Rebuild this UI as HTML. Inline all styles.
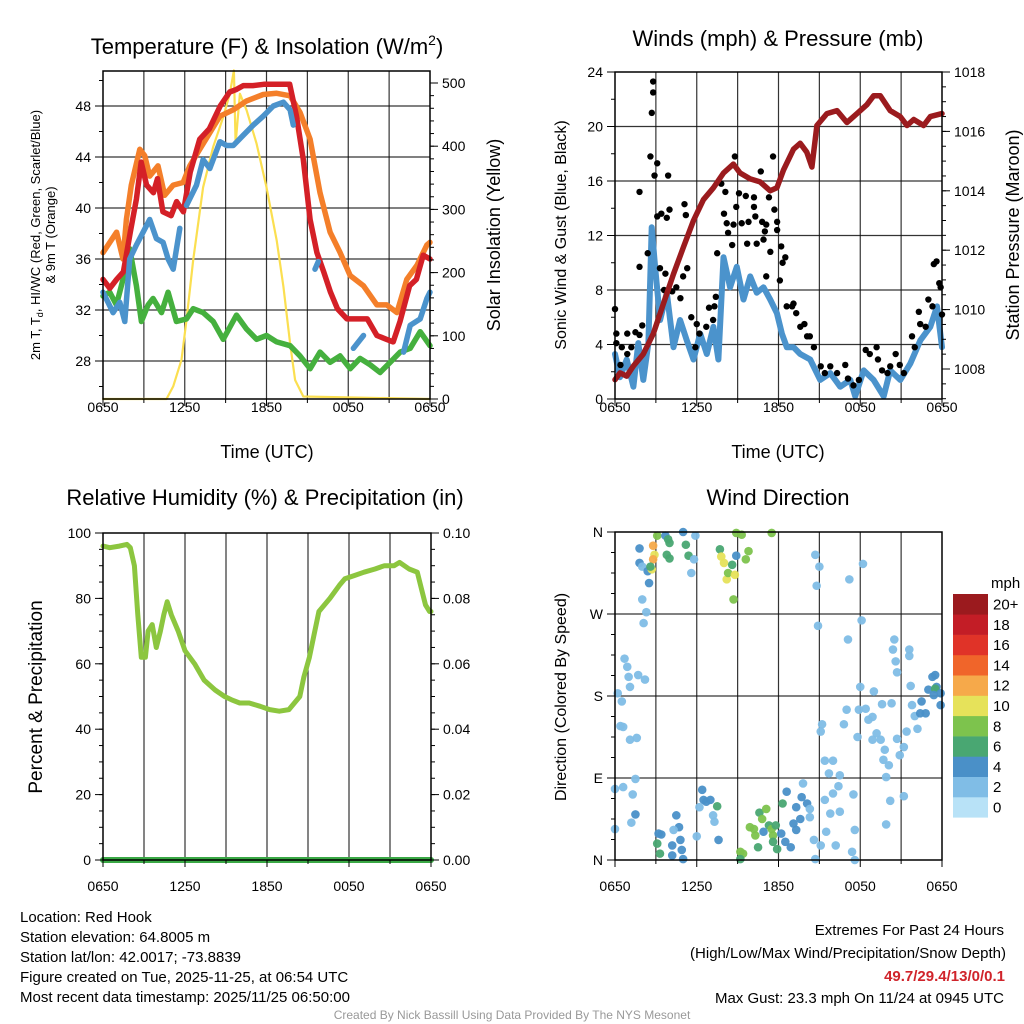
<!DOCTYPE html>
<html><head><meta charset="utf-8"><style>
html,body{margin:0;padding:0;background:#fff;}
svg{display:block;font-family:"Liberation Sans",Arial,sans-serif;}
</style></head><body>
<svg id="s" width="1024" height="1024" viewBox="0 0 1024 1024">
<rect width="1024" height="1024" fill="#fff"/>
<text x="267" y="54" font-size="22" text-anchor="middle">Temperature (F) &amp; Insolation (W/m<tspan dy="-9" font-size="14">2</tspan><tspan dy="9">)</tspan></text>
<text x="778" y="46" font-size="22" text-anchor="middle">Winds (mph) &amp; Pressure (mb)</text>
<text x="265" y="505" font-size="22" text-anchor="middle">Relative Humidity (%) &amp; Precipitation (in)</text>
<text x="778" y="505" font-size="22" text-anchor="middle">Wind Direction</text>
<text x="267" y="458" font-size="18" text-anchor="middle">Time (UTC)</text>
<text x="778" y="458" font-size="18" text-anchor="middle">Time (UTC)</text>
<g transform="translate(40,235) rotate(-90)" font-size="13" text-anchor="middle">
<text x="0" y="0">2m T, T<tspan dy="3" font-size="9">d</tspan><tspan dy="-3">, HI/WC (Red, Green, Scarlet/Blue)</tspan></text>
<text x="0" y="15">&amp; 9m T (Orange)</text></g>
<text transform="translate(500,235) rotate(-90)" font-size="18" text-anchor="middle">Solar Insolation (Yellow)</text>
<text transform="translate(566,235) rotate(-90)" font-size="16" text-anchor="middle">Sonic Wind &amp; Gust (Blue, Black)</text>
<text transform="translate(1019,235) rotate(-90)" font-size="18" text-anchor="middle">Station Pressure (Maroon)</text>
<text transform="translate(42,697) rotate(-90)" font-size="19" text-anchor="middle">Percent &amp; Precipitation</text>
<text transform="translate(566,697) rotate(-90)" font-size="16" text-anchor="middle">Direction (Colored By Speed)</text>
<g font-size="15">
<text x="20" y="922">Location: Red Hook</text>
<text x="20" y="942">Station elevation: 64.8005 m</text>
<text x="20" y="962">Station lat/lon: 42.0017; -73.8839</text>
<text x="20" y="982">Figure created on Tue, 2025-11-25, at 06:54 UTC</text>
<text x="20" y="1002">Most recent data timestamp: 2025/11/25 06:50:00</text>
</g>
<g font-size="15" text-anchor="end">
<text x="1004" y="935">Extremes For Past 24 Hours</text>
<text x="1006" y="958">(High/Low/Max Wind/Precipitation/Snow Depth)</text>
<text x="1005" y="981" fill="#d0242b" font-weight="bold">49.7/29.4/13/0/0.1</text>
<text x="1004" y="1003">Max Gust: 23.3 mph On 11/24 at 0945 UTC</text>
</g>
<text x="512" y="1019" font-size="12" fill="#999" text-anchor="middle">Created By Nick Bassill Using Data Provided By The NYS Mesonet</text>
<g id="plots"></g>
</svg>
<script>
// ---------- data ----------
const xTickLabels = ["0650","1250","1850","0050","0650"];
const tempTicks = [28,32,36,40,44,48];
const solarTicks = [0,100,200,300,400,500];
const windTicks = [0,4,8,12,16,20,24];
const presTicks = [1008,1010,1012,1014,1016,1018];
const rhTicks = [0,20,40,60,80,100];
const precipTicks = ["0.00","0.02","0.04","0.06","0.08","0.10"];
const dirTickLabels = ["N","E","S","W","N"];
const speedBins = ["0","2","4","6","8","10","12","14","16","18","20+"];

const redT = [0,0.5,1,1.5,2,2.45,2.8,3.2,3.7,4.0,4.4,5.0,5.4,5.9,6.4,7.1,7.8,8.6,9.3,9.8,10.3,11.0,11.8,12.7,13.7,14.2,14.7,15.2,15.7,16.2,16.7,17.2,17.9,18.6,19.4,20.1,20.8,21.3,21.8,22.5,23.0,23.5,24];
const redV = [34.4,33.7,34.4,35,38.1,40.7,43.6,41.8,41.2,42.3,39.7,39.4,40.5,39.7,42.8,45.4,46.2,48.0,49.1,49.3,49.6,49.6,49.7,49.7,49.7,47.2,43.8,39.1,36.5,35,33.4,32.1,31.3,31.3,31.3,30,29.7,29.5,31.1,33.9,34.4,36.3,36];
const orangeT = [0,0.5,1,1.47,1.72,2.08,2.7,3.06,3.43,4.04,4.53,5.15,5.88,6.37,7.1,7.84,8.58,9.56,10.54,11.76,12.75,13.73,14.46,15.2,15.93,16.67,17.4,18.14,19.12,20.1,20.83,21.57,22.3,23.04,23.77,24];
const orangeV = [36.5,37.3,38.1,36,39.1,41.8,44.6,44.1,42.5,43.3,41,41.8,42,43.3,44.6,45.9,47.2,47.7,48.4,48.9,49,48.8,47.5,45.4,41.2,38.1,36.5,34.7,33.9,32.4,32.4,31.8,34.4,35.5,37.1,37.3];
const blueT = [0,0.74,1.23,1.6,1.96,2.45,2.94,3.43,3.92,4.41,4.78,5.15,5.64,null,6.13,6.86,7.35,7.84,8.58,9.07,9.56,10.29,11.03,11.76,12.5,13.24,13.73,13.97,null,15.56,15.8,null,18.38,19.12,null,22.06,22.55,23.28,23.77,24];
const blueV = [33.4,31.8,32.6,31.1,36,37.1,38.1,39.1,37.6,37.3,36,35.2,38.4,null,40.2,41.8,43.8,43.1,45.2,44.9,44.9,45.7,46.5,47.2,48,48.3,47.7,46.5,null,35.2,35.8,null,29,30,null,28.7,30.8,31.3,32.9,33.4];
const greenT = [0,0.49,0.98,1.47,1.96,2.45,2.82,3.31,3.68,4.29,4.78,5.39,6.13,6.62,7.35,8.09,8.82,9.8,10.54,11.27,12.0,12.75,13.73,14.46,15.2,15.93,16.67,17.4,18.14,18.87,19.61,20.34,21.08,21.81,22.55,23.28,24];
const greenV = [33.1,33.4,32.4,34.4,36.8,33.9,31.1,32.4,32.9,31.8,33.4,31.1,31.3,32.1,31.8,31.1,29.7,31.6,30.5,29.7,30,29.5,29.2,28.4,27.4,28.7,27.9,28.4,27.4,28.2,27.7,27.1,27.9,28.7,29,30.3,29.2];
const solarT = [0,4.66,5.15,5.76,6.13,6.62,7.35,8.09,8.82,9.31,9.61,9.73,10.05,10.54,11.27,12.0,12.75,13.24,13.73,14.1,14.7,24];
const solarV = [0,0,20,62,125,220,335,399,446,483,520,404,483,457,404,335,251,178,88,30,4,0];

const windT = [0,0.37,0.86,1.35,1.71,2.08,2.45,2.69,2.94,3.31,3.8,4.29,4.78,5.27,5.76,6.25,6.74,7.22,7.59,7.96,8.45,8.94,9.43,9.92,10.41,10.9,11.39,11.88,12.25,12.61,13.1,13.59,14.33,15.06,15.8,16.53,17.27,17.63,18.25,18.98,19.72,20.2,20.94,21.67,22.41,23.14,23.63,24];
const windV = [3.3,1.6,2.9,0.9,4.1,1.4,4.1,12.6,9.7,5.8,7.8,3.8,5.8,4.3,2.9,4.8,3.3,5.3,2.9,10.4,8.2,9.7,7.3,9,7.8,8.2,7.3,6.3,4.8,3.8,3.8,3.3,2.9,1.4,1.9,0.9,1.4,0.2,2.1,1.4,0.2,2.1,1.4,2.6,4.3,5.3,6.8,3.8];
const presT = [0,0.37,0.86,1.35,2.08,2.82,3.55,4.29,5.02,5.76,6.49,7.22,7.96,8.69,9.18,9.92,10.65,11.39,11.88,12.37,13.1,13.59,14.08,14.45,14.82,15.55,16.29,17.02,17.76,18.49,18.98,19.47,20.2,20.94,21.43,21.92,22.65,23.14,24];
const presV = [1007.64,1007.87,1007.76,1008.1,1008.5,1009.2,1010.2,1011.2,1012.1,1013,1013.7,1014.1,1014.6,1014.9,1014.6,1014.4,1014.3,1014,1014.1,1014.7,1015.4,1015.6,1015.3,1014.8,1016.2,1016.6,1016.7,1016.3,1016.6,1016.9,1017.2,1017.2,1016.7,1016.5,1016.2,1016.4,1016.2,1016.5,1016.6];
const gustT = [0,0.1,0.1,0.4,0.5,0.9,0.9,1.2,1.5,1.8,2.0,1.8,2.4,1.8,2.8,2.8,2.7,2.6,3.1,2.9,3.1,3.4,3.8,4.0,3.9,3.3,3.7,3.6,4.2,4.5,4.8,5.0,5.3,5.1,5.2,5.6,6.0,6.2,5.9,6.7,6.9,7.3,7.4,7.2,7.5,8.0,7.8,8.1,8.2,8.3,8.6,8.7,8.8,8.9,9.1,9.3,9.6,9.7,9.8,10.2,10.2,10.3,10.4,10.7,10.8,10.9,11.0,11.1,11.1,11.3,11.4,11.6,11.7,11.9,11.9,12.2,12.3,12.5,12.1,12.6,13.0,13.1,13.3,13.6,13.9,14.1,14.3,14.6,15.1,15.4,15.8,16.3,16.9,17.1,17.5,17.9,18.4,18.7,19.2,19.3,19.6,20.0,20.2,20.6,20.9,21.2,21.8,22.0,22.4,22.8,22.3,23.0,23.3,23.4,23.6,23.8,23.9,24.0];
const gustV = [6.6,4.8,4.1,2.5,3.8,3.3,4.8,3.8,4.9,4.7,5.4,15.2,10.7,9.7,23.3,22.5,21.0,17.8,17.3,16.4,13.4,13.6,13.3,13.9,16.4,9.6,9.2,8.0,7.9,8.2,7.4,9.0,9.6,14.3,13.5,6.0,5.5,4.8,3.8,5.3,6.7,6.8,7.5,5.8,10.7,13.6,15.8,15.2,12.9,12.2,11.3,12.8,17.8,14.1,15.1,12.9,14.9,11.4,13.0,14.1,14.8,13.4,11.4,16.7,13.0,11.7,12.3,12.8,9.0,14.8,10.8,17.8,13.9,13.0,12.4,11.2,10.0,10.4,8.7,6.8,6.8,7.0,6.3,5.3,5.5,4.6,4.6,3.8,2.4,1.9,2.4,1.9,2.5,1.5,1.0,1.4,3.6,3.3,3.8,2.9,2.1,1.9,2.4,3.3,2.5,1.9,4.6,3.8,5.5,5.3,6.4,7.3,6.8,9.9,10.1,8.5,8.2,6.2];

const rhT = [0,0.5,1.2,1.75,2.0,2.3,2.55,2.8,3.1,3.3,3.6,3.9,4.2,4.45,4.7,5.0,5.5,6.0,6.7,7.4,8.2,8.9,9.4,10.0,10.7,11.5,12.2,12.9,13.6,14.4,14.7,15.1,15.5,15.8,16.6,17.3,17.7,18.4,19.1,19.9,20.6,21.3,21.7,22.4,23.0,23.3,23.6,23.9,24];
const rhV = [96,95.5,96,96.5,95.5,90,75,62,62,70,72,65,70,75,79,75,70,64,60,55,52,50,49,48,48,47,46,45.5,46,50,56,62,70,76,80,84,86,87,88,89,90,90,91,89,88,83,78,76,76];
const precipT = [0,24];
const precipV = [0,0];

const dirT = [1.8,1.8,2.0,2.4,2.5,2.0,2.3,2.1,2.8,2.9,2.8,2.7,2.6,3.1,3.7,3.9,4.0,3.8,4.0,5.0,5.2,5.4,5.9,5.8,5.6,7.7,7.8,8.0,8.2,8.3,8.6,8.8,8.9,8.7,8.9,9.3,9.8,9.6,11.5,0.7,0.9,1.0,1.1,1.7,2.2,0.2,0.5,0.4,0.6,1.1,1.6,1.5,0,0.6,1.3,1.5,1.2,0,3.2,3.4,3.1,3.3,4.2,4.5,4.7,4.3,4.8,4.9,5.0,4.2,6.0,6.4,6.5,6.7,7.0,6.2,7.2,7.3,7.5,7.6,9.2,9.4,9.2,9.9,10.2,10.3,10.5,10.6,10.8,10.9,11.1,11.3,11.5,11.6,11.8,11.6,11.9,12.3,12.6,12.2,12.5,12.9,13.1,13.3,13.3,13.6,13.7,14.1,14.3,13.8,14.3,14.6,14.7,15.1,15.5,15.8,15.4,15.4,16.0,15.7,16.0,16.4,16.5,16.5,16.2,17.4,17.6,17.5,17.6,14.7,15.0,14.8,14.9,18.2,17.2,18.1,17.1,15.2,15.1,17.0,16.8,17.9,18.0,18.4,18.6,18.9,19.0,19.6,20.3,19.2,19.5,18.9,19.8,19.7,20.1,19.9,20.2,19.9,21.2,17.8,20.5,20.4,20.6,20.7,21.6,21.6,21.7,21.8,22.0,22.2,21.4,20.7,21.2,20.9,22.4,22.5,22.8,23.0,23.3,23.5,23.6,23.5,23.9,23.9,23.4];
const dirDeg = [342,326,322,317,304,286,272,260,345,335,330,319,322,356,356,352,348,335,331,360,346,334,356,330,315,341,333,326,308,315,324,313,334,286,359,357,339,330,359,221,212,201,190,203,198,183,174,147,146,132,134,89,78,80,72,50,41,34,29,28,18,7,16,49,36,33,22,11,1,5,26,77,66,64,66,58,49,42,59,22,9,7,1,36,34,27,14,52,45,31,56,38,34,27,38,20,12,62,75,29,20,14,40,33,58,45,69,62,56,84,47,22,1,16,31,51,66,109,109,95,73,81,93,53,16,9,0,72,33,335,322,301,257,325,308,263,242,149,141,165,149,165,190,166,154,157,185,171,172,139,132,132,121,110,104,91,65,39,70,135,242,231,218,206,231,224,191,170,158,144,141,133,124,115,161,174,161,187,201,203,190,188,183,170,181];
const dirSpd = [4,4,3,4,4,3,2,2,12,11,12,10,7,8,4,6,6,6,6,4,6,6,3,3,3,6,10,10,10,8,6,10,5,8,8,8,8,8,8,3,3,3,3,2,2,2,3,3,3,2,3,3,3,2,3,4,2,3,4,4,6,6,4,4,4,3,4,4,4,4,3,4,4,4,4,3,3,3,6,4,8,8,6,8,8,8,6,6,8,4,8,6,8,8,6,6,6,6,4,4,4,4,4,4,4,4,4,4,3,3,3,3,3,2,3,3,2,2,2,3,2,2,2,2,2,2,2,2,2,3,2,3,2,2,2,2,2,3,2,3,2,2,2,3,3,3,2,2,2,3,3,3,2,2,3,2,2,2,2,2,2,3,2,3,2,2,3,3,3,3,2,2,2,3,4,4,4,4,4,4,5,6,4,4,4];

// ---------- drawing ----------
const NS = "http://www.w3.org/2000/svg";
const root = document.getElementById("plots");
function mk(tag, attrs, parent) {
  const e = document.createElementNS(NS, tag);
  for (const k in attrs) e.setAttribute(k, attrs[k]);
  (parent || root).appendChild(e);
  return e;
}
const binColors = ["#b8e2f7","#80bde6","#4a90c8","#49a772","#7dc34d","#e6e25a","#f6a94a","#f0652a","#e03328","#c31d26","#9b1a1e"];

function panel(name, x0, x1, y0, y1) {
  const g = mk("g", {});
  
  
  return {g, x0, x1, y0, y1, xs: t => x0 + t / 24 * (x1 - x0)};
}
function lin(d0, d1, p0, p1) { return v => p0 + (v - d0) / (d1 - d0) * (p1 - p0); }

function grid(P, hLines) {
  const gg = mk("g", {}, P.g);
  
  
  for (let i = 1; i < 8; i++) {
    const x = P.x0 + i * (P.x1 - P.x0) / 8;
    mk("line", {x1: x, x2: x, y1: P.y0, y2: P.y1, stroke: "#111", "stroke-width": 1.2, "stroke-opacity": 0.85}, gg);
  }
  hLines.forEach(y => mk("line", {x1: P.x0, x2: P.x1, y1: y, y2: y, stroke: "#111", "stroke-width": 1.2, "stroke-opacity": 0.85}, gg));
}
function frame(P) {
  const r = mk("rect", {x: P.x0, y: P.y0, width: P.x1 - P.x0, height: P.y1 - P.y0, fill: "none", stroke: "#000", "stroke-width": 1.5}, P.g);
  
  
}
function xAxis(P, labelY) {
  const g = mk("g", {"font-size": 14, "text-anchor": "middle"}, P.g);
  
  
  for (let i = 0; i <= 8; i++) {
    const x = P.x0 + i * (P.x1 - P.x0) / 8;
    mk("line", {x1: x, x2: x, y1: P.y1, y2: P.y1 + (i % 2 ? 4 : 7), stroke: "#000"}, g);
  }
  xTickLabels.forEach((l, i) => {
    const t = mk("text", {x: P.x0 + i * (P.x1 - P.x0) / 4, y: labelY}, g);
    t.textContent = l;
  });
}
function yAxis(P, ticks, labels, sc, side, minorStep, minorFrom, minorTo, name) {
  const g = mk("g", {"font-size": 14, "text-anchor": side === "left" ? "end" : "start"}, P.g);
  
  
  const x = side === "left" ? P.x0 : P.x1;
  const d = side === "left" ? -1 : 1;
  if (minorStep) for (let v = minorFrom; v <= minorTo + 1e-9; v += minorStep) {
    const y = sc(v);
    if (y >= P.y0 - 0.5 && y <= P.y1 + 0.5) mk("line", {x1: x, x2: x + d * 4, y1: y, y2: y, stroke: "#000"}, g);
  }
  ticks.forEach((v, i) => {
    const y = sc(v);
    mk("line", {x1: x, x2: x + d * 8, y1: y, y2: y, stroke: "#000"}, g);
    const t = mk("text", {x: x + d * 12, y: y + 5}, g);
    t.textContent = labels[i];
  });
}
function line(P, T, V, ys, color, w, name) {
  let d = "", pen = false;
  for (let i = 0; i < T.length; i++) {
    if (T[i] === null || V[i] === null) { pen = false; continue; }
    d += (pen ? "L" : "M") + P.xs(T[i]).toFixed(1) + "," + ys(V[i]).toFixed(1);
    pen = true;
  }
  const p = mk("path", {d, fill: "none", stroke: color, "stroke-width": w, "stroke-linejoin": "round", "stroke-linecap": "round"}, P.g);
  
  
}

// Panel 1
const P1 = panel("temperature-panel", 103, 430, 71, 399);
const tY = lin(28, 48, 361, 106);
const sY = lin(0, 500, 399, 83);
grid(P1, tempTicks.map(tY));
line(P1, solarT, solarV, sY, "#fbdf50", 2.2, "solar-insolation-line");
line(P1, greenT, greenV, tY, "#45b03e", 5.5, "dewpoint-line");
line(P1, orangeT, orangeV, tY, "#f47f2a", 5.5, "temperature-9m-line");
line(P1, redT, redV, tY, "#d42027", 5.5, "temperature-2m-line");
line(P1, blueT, blueV, tY, "#4b93cc", 5.5, "heat-index-windchill-line");
frame(P1);
xAxis(P1, 412);
yAxis(P1, tempTicks, tempTicks, tY, "left", 2, 26, 50, "temperature-y-axis");
yAxis(P1, solarTicks, solarTicks, sY, "right", 20, 0, 520, "solar-y-axis");

// Panel 2
const P2 = panel("winds-panel", 615, 942, 72, 399);
const wY = lin(0, 24, 399, 72);
const pY = lin(1008, 1018, 369, 72);
grid(P2, [4,8,12,16,20].map(wY));
line(P2, windT, windV, wY, "#4b93cc", 6, "sonic-wind-line");
const gg = mk("g", {}, P2.g);


gustT.forEach((t, i) => {
  const c = mk("circle", {cx: P2.xs(t), cy: wY(gustV[i]), r: 3.2, fill: "#000"}, gg);
  
  
});
line(P2, presT, presV, pY, "#9b1b1e", 5.5, "pressure-line");
frame(P2);
xAxis(P2, 412);
yAxis(P2, windTicks, windTicks, wY, "left", 2, 0, 24, "wind-y-axis");
yAxis(P2, presTicks, presTicks, pY, "right", 0.5, 1007, 1018, "pressure-y-axis");

// Panel 3
const P3 = panel("humidity-panel", 103, 431, 533, 860);
const rY = lin(0, 100, 860, 533);
const prY = lin(0, 0.1, 860, 533);
grid(P3, []);
line(P3, rhT, rhV, rY, "#8cc63f", 5, "relative-humidity-line");
line(P3, precipT, precipV, prY, "#3aa845", 6, "precipitation-line");
frame(P3);
xAxis(P3, 891);
yAxis(P3, rhTicks, rhTicks, rY, "left", 5, 0, 100, "humidity-y-axis");
yAxis(P3, [0,0.02,0.04,0.06,0.08,0.1], precipTicks, prY, "right", 0.005, 0, 0.1, "precip-y-axis");

// Panel 4
const P4 = panel("wind-direction-panel", 615, 942, 532, 860);
const dY = lin(0, 360, 860, 532);
grid(P4, [90,180,270].map(dY));
const dg = mk("g", {}, P4.g);


dirT.forEach((t, i) => {
  const b = Math.min(10, Math.floor(dirSpd[i] / 2));
  const c = mk("circle", {cx: P4.xs(t), cy: dY(dirDeg[i]), r: 4.3, fill: binColors[b], "fill-opacity": 0.95}, dg);
  
  
});
frame(P4);
xAxis(P4, 891);
yAxis(P4, [0,90,180,270,360], dirTickLabels, dY, "left", 22.5, 0, 360, "direction-y-axis");

// Colorbar
const cb = mk("g", {"font-size": 15});


const cbT = mk("text", {x: 991, y: 588}, cb);
cbT.textContent = "mph";
speedBins.forEach((l, i) => {
  const k = speedBins.length - 1 - i;
  const y = 594 + k * 20.3;
  const r = mk("rect", {x: 953, y: y, width: 35, height: 20.6, fill: binColors[i]}, cb);
  
  
  const t = mk("text", {x: 993, y: y + 15.5}, cb);
  t.textContent = l;
});
</script>
</body></html>
